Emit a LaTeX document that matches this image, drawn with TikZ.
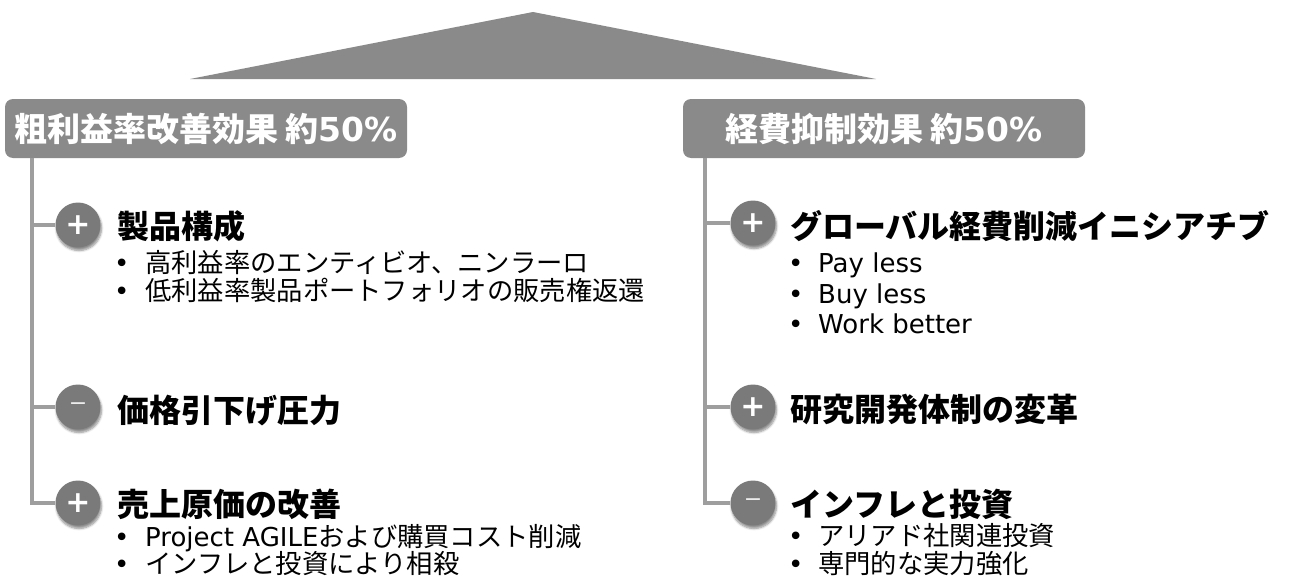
\documentclass[tikz,border=0pt]{standalone}
\usepackage{fontspec}
\usetikzlibrary{shadows.blur}
\setmainfont{DejaVu Sans}
\newfontfamily\jp{Noto Sans CJK JP}
\newfontfamily\lat{DejaVu Sans}
\definecolor{hdr}{RGB}{138,138,138}
\definecolor{ln}{RGB}{158,158,158}
\definecolor{circ}{RGB}{122,122,122}
\newcommand\signplus{\textcolor{white}{\fontsize{30}{30}\selectfont\lat\bfseries +}}
\newcommand\signminus{\textcolor{white!85!gray}{\fontsize{22}{22}\selectfont\lat −}}
\newcommand\latt[1]{{\fontsize{26}{26}\selectfont\lat #1}}
\newcommand\blL[1]{\makebox[31pt][l]{\latt{•}}#1}
\newcommand\blR[1]{\makebox[30pt][l]{\latt{•}}#1}
\begin{document}
\begin{tikzpicture}[x=1pt,y=-1pt,
  hdrbox/.style={fill=hdr, rounded corners=8pt, minimum width=402pt, minimum height=59pt, inner sep=0pt, text=white, font=\fontsize{33}{33}\selectfont\jp\bfseries},
  conn/.style={draw=ln, line width=4pt},
  signc/.style={circle, fill=circ, minimum size=45pt, inner sep=0pt, blur shadow={shadow xshift=1pt, shadow yshift=-3pt, shadow blur steps=6, shadow opacity=45}},
  ttl/.style={anchor=west, inner sep=0pt, text height=28.2pt, text depth=3.8pt, font=\fontsize{32}{32}\selectfont\jp\bfseries},
  bul/.style={anchor=west, inner sep=0pt, text height=22.6pt, text depth=2.6pt, font=\fontsize{26.3}{26.3}\selectfont\jp},
]
\useasboundingbox (0,0) rectangle (1290,578);
% top triangle
\fill[hdr] (190,79) -- (533,12) -- (876,79) -- cycle;
% headers
\node[hdrbox] (hL) at (206,128.5) {粗利益率改善効果 約{\lat 50\%}};
\node[hdrbox] (hR) at (884,128.5) {経費抑制効果 約{\lat 50\%}};
\coordinate (tL) at (32,158);
\coordinate (tR) at (705,158);
% circles
\node[signc] (cL1) at (78,225) {\signplus};
\node[signc] (cL2) at (78,407) {\signminus};
\node[signc] (cL3) at (78,503) {\signplus};
\node[signc] (cR1) at (753,223) {\signplus};
\node[signc] (cR2) at (753,407) {\signplus};
\node[signc] (cR3) at (753,503) {\signminus};
% connectors
\draw[conn] (tL) |- (cL3.west);
\draw[conn] (tL |- cL1) -- (cL1.west);
\draw[conn] (tL |- cL2) -- (cL2.west);
\draw[conn] (tR) |- (cR3.west);
\draw[conn] (tR |- cR1) -- (cR1.west);
\draw[conn] (tR |- cR2) -- (cR2.west);
% titles left
\node[ttl] (tl1) at (117,226) {製品構成};
\node[ttl] (tl2) at (117,410) {価格引下げ圧力};
\node[ttl] (tl3) at (117,504) {売上原価の改善};
% bullets left
\node[bul] (bl1) at (114,262) {\blL{高利益率のエンティビオ、ニンラーロ}};
\node[bul] (bl2) at (114,290) {\blL{低利益率製品ポートフォリオの販売権返還}};
\node[bul] (bl3) at (114,536) {\blL{\latt{Project AGILE}および購買コスト削減}};
\node[bul] (bl4) at (114,563) {\blL{インフレと投資により相殺}};
% titles right
\node[ttl] (tr1) at (790,226) {グローバル経費削減イニシアチブ};
\node[ttl] (tr2) at (790,409) {研究開発体制の変革};
\node[ttl] (tr3) at (790,504) {インフレと投資};
% bullets right
\node[bul] (br1) at (788,262) {\blR{\latt{Pay less}}};
\node[bul] (br2) at (788,293) {\blR{\latt{Buy less}}};
\node[bul] (br3) at (788,323) {\blR{\latt{Work better}}};
\node[bul] (br4) at (788,535) {\blR{アリアド社関連投資}};
\node[bul] (br5) at (788,563) {\blR{専門的な実力強化}};
\end{tikzpicture}
\end{document}
